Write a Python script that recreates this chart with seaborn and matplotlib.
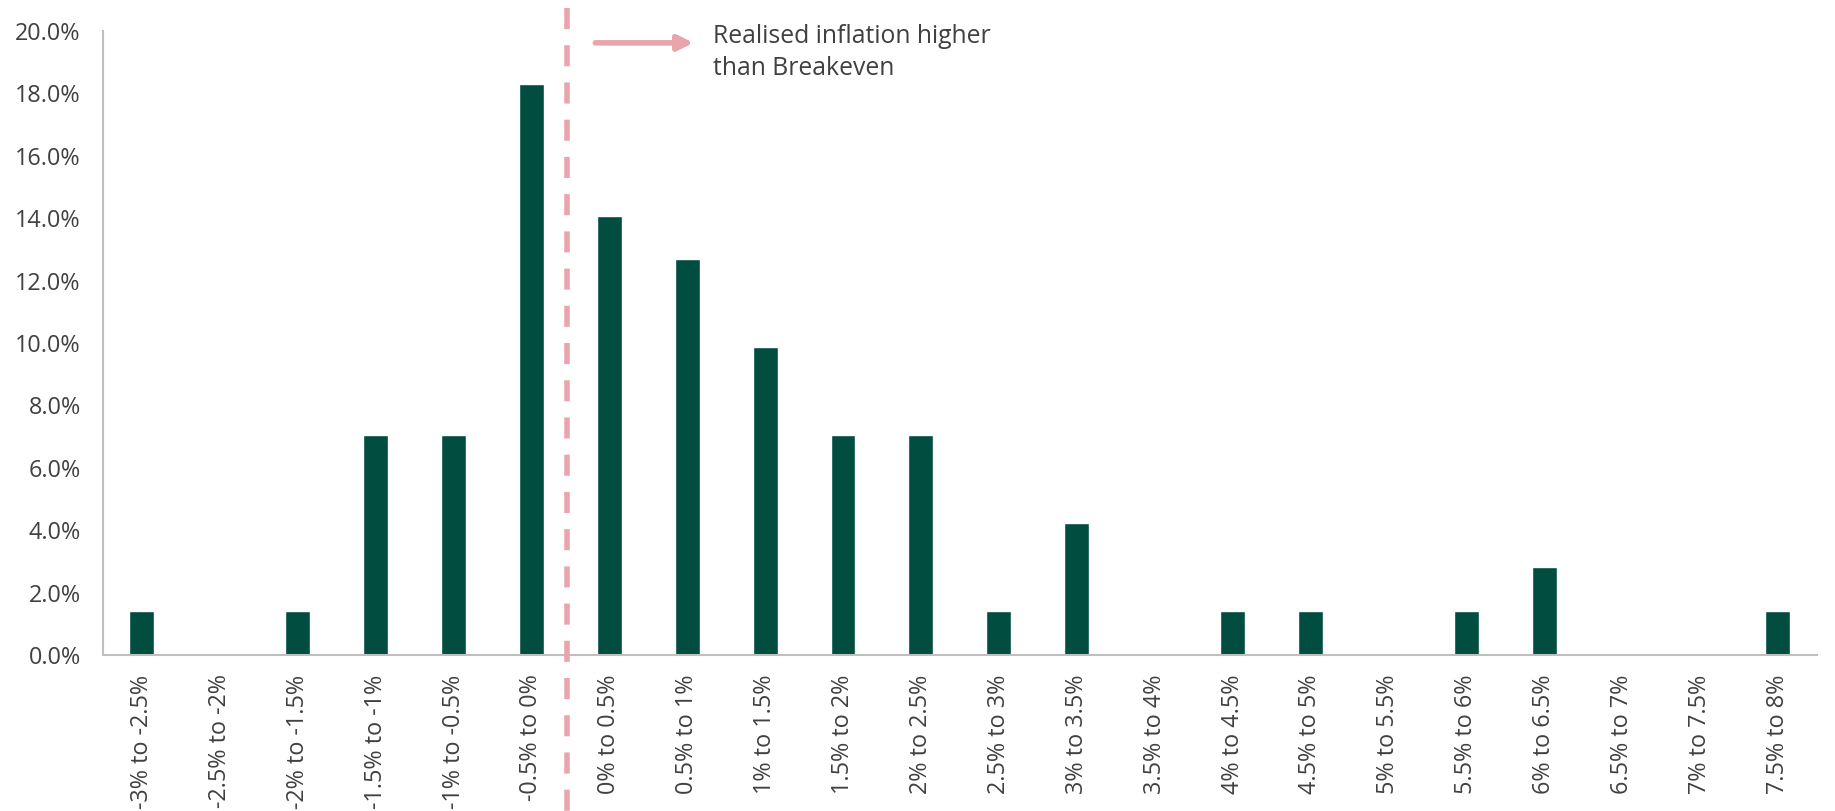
import numpy as np
import pandas as pd
import matplotlib
matplotlib.use("Agg")
import matplotlib.pyplot as plt
import matplotlib.transforms as mtransforms
import seaborn as sns

# -------------------------------
# DATA
# -------------------------------
categories = [
    "-3% to -2.5%", "-2.5% to -2%", "-2% to -1.5%", "-1.5% to -1%",
    "-1% to -0.5%", "-0.5% to 0%", "0% to 0.5%", "0.5% to 1%",
    "1% to 1.5%", "1.5% to 2%", "2% to 2.5%", "2.5% to 3%",
    "3% to 3.5%", "3.5% to 4%", "4% to 4.5%", "4.5% to 5%",
    "5% to 5.5%", "5.5% to 6%", "6% to 6.5%", "6.5% to 7%",
    "7% to 7.5%", "7.5% to 8%",
]
share_pct = [
    1.41, 0.0, 1.41, 7.04, 7.04, 18.31, 14.08, 12.68, 9.86, 7.04, 7.04,
    1.41, 4.23, 0.0, 1.41, 1.41, 0.0, 1.41, 2.82, 0.0, 0.0, 1.41,
]
yticks = [0, 2, 4, 6, 8, 10, 12, 14, 16, 18, 20]
breakeven_pos = 5.46
note_text = "Realised inflation higher\nthan Breakeven"

df = pd.DataFrame({"bucket": categories, "share": share_pct})

# -------------------------------
# STYLE
# -------------------------------
sns.set_style("white")
plt.rcParams["font.family"] = ["Open Sans", "DejaVu Sans"]

BAR_COLOR = "#014D40"
LINE_COLOR = "#E8A6AC"
AXIS_COLOR = "#BFBFBF"
TEXT_COLOR = "#404040"

fig = plt.figure(figsize=(18.35, 8.11), dpi=100)
ax = fig.add_axes([0.0561, 0.1924, 0.934, 0.7694])

sns.barplot(data=df, x="bucket", y="share", color=BAR_COLOR,
            width=0.32, saturation=1, ax=ax)

ax.set_xlim(-0.5, len(categories) - 0.5)
ax.set_ylim(0, 20)
ax.set_xlabel("")
ax.set_ylabel("")

# y axis
ax.set_yticks(yticks)
ax.set_yticklabels([f"{v:.1f}%" for v in yticks], fontsize=16.8, color=TEXT_COLOR)
ax.tick_params(axis="y", length=9, width=1.5, color=AXIS_COLOR, direction="out", pad=7)

# x axis: labels at centres, tick marks at boundaries
ax.set_xticks(range(len(categories)))
ax.set_xticklabels(categories, rotation=90, fontsize=16.8, color=TEXT_COLOR, va="top")
ax.tick_params(axis="x", which="major", length=0, pad=14)
ax.set_xticks(np.arange(-0.5, len(categories), 1.0), minor=True)
ax.tick_params(axis="x", which="minor", length=9, width=1.5, color=AXIS_COLOR, direction="out")

for side in ["top", "right"]:
    ax.spines[side].set_visible(False)
for side in ["left", "bottom"]:
    ax.spines[side].set_color(AXIS_COLOR)
    ax.spines[side].set_linewidth(1.5)

# -------------------------------
# BREAKEVEN LINE + NOTE
# -------------------------------
trans = mtransforms.blended_transform_factory(ax.transData, ax.transAxes)
ax.plot([breakeven_pos, breakeven_pos], [1.037, -0.26], transform=trans,
        color=LINE_COLOR, lw=4, dashes=(3.8, 2.9), clip_on=False, zorder=5)

ax.annotate("", xy=(7.08, 19.62), xytext=(5.82, 19.62),
            arrowprops=dict(arrowstyle="-|>,head_length=0.9,head_width=0.45",
                            color=LINE_COLOR, lw=4, shrinkA=0, shrinkB=0),
            annotation_clip=False)
ax.text(7.33, 20.22, note_text, fontsize=17.8, color=TEXT_COLOR, va="top", ha="left",
        linespacing=1.35, clip_on=False)

fig.savefig("out.png", dpi=100)
